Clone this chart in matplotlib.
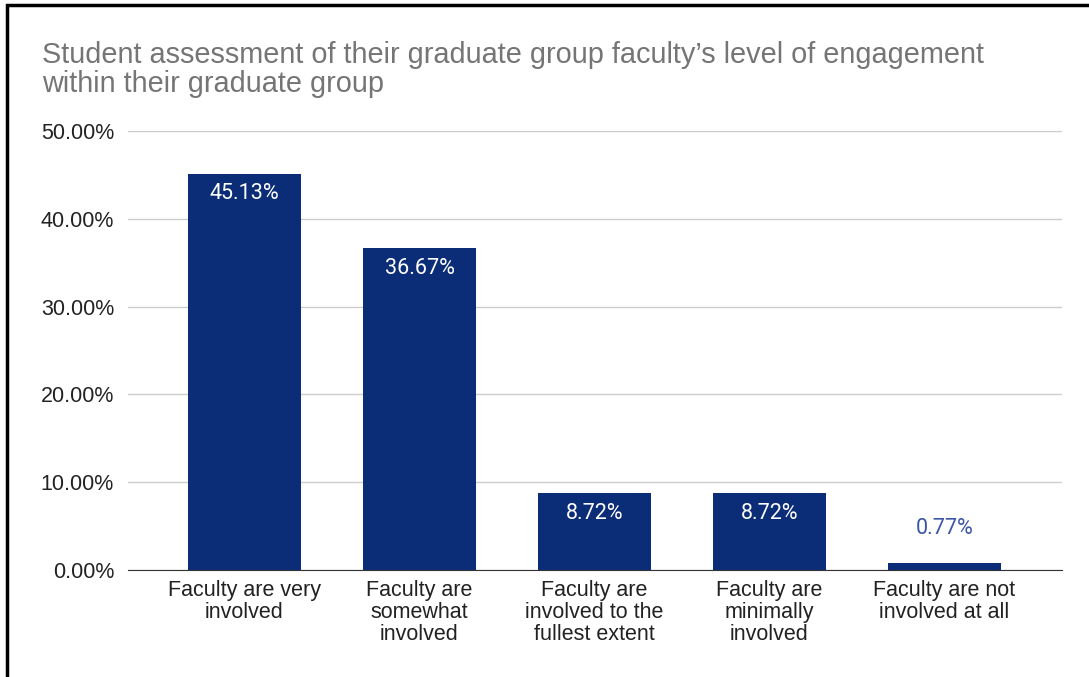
import matplotlib.pyplot as plt
from matplotlib.patches import Rectangle
from matplotlib.ticker import FuncFormatter

categories = ['Faculty are very\ninvolved',
              'Faculty are\nsomewhat\ninvolved',
              'Faculty are\ninvolved to the\nfullest extent',
              'Faculty are\nminimally\ninvolved',
              'Faculty are not\ninvolved at all']
shares = [45.13, 36.67, 8.72, 8.72, 0.77]
yticks = [0, 10, 20, 30, 40, 50]

bar_color = '#0b2d78'

fig = plt.figure(figsize=(10.89, 6.77), dpi=100)
ax = fig.add_axes([0.1175, 0.158, 0.8575, 0.6485])

x = list(range(len(shares)))
bars = ax.bar(x, shares, width=0.65, color=bar_color, zorder=3)

ax.set_xlim(-0.666, 4.671)
ax.set_ylim(0, 50)
ax.set_yticks(yticks)
ax.yaxis.set_major_formatter(FuncFormatter(lambda v, p: f'{v:.2f}%'))
ax.set_xticks(x)
ax.set_xticklabels(categories, family='Liberation Sans', fontsize=15.5,
                   color='#222222', linespacing=1.06)

ax.grid(axis='y', color='#cccccc', linewidth=1, zorder=0)
for s in ['top', 'right', 'left']:
    ax.spines[s].set_visible(False)
ax.spines['bottom'].set_color('#333333')
ax.spines['bottom'].set_zorder(4)
ax.tick_params(axis='both', length=0)
ax.tick_params(axis='y', pad=10)
ax.tick_params(axis='x', pad=7.5)
for lab in ax.get_yticklabels():
    lab.set_family('Liberation Sans')
    lab.set_fontsize(15.5)
    lab.set_color('#222222')

# value labels: inside tall bars, above the short one
for rect, v in zip(bars, shares):
    cx = rect.get_x() + rect.get_width() / 2
    if v > 5:
        ax.annotate(f'{v:.2f}%', (cx, v), xytext=(0, -14.5), textcoords='offset points',
                    ha='center', va='center', color='white', fontsize=15.5,
                    family='Roboto', zorder=5)
    else:
        ax.annotate(f'{v:.2f}%', (cx, v), xytext=(0, 25), textcoords='offset points',
                    ha='center', va='center', color='#3a56a4', fontsize=15.5,
                    family='Roboto', zorder=5)

fig.text(0.0385, 0.94, "Student assessment of their graduate group faculty\u2019s level of engagement\nwithin their graduate group",
         family='Liberation Sans', fontsize=20.8, color='#757575', va='top', ha='left',
         linespacing=1.05)

# outer frame on the left and top edges
fig.add_artist(Rectangle((0.006, -0.01), 1.1, 1.003, transform=fig.transFigure,
                         fill=False, edgecolor='black', linewidth=2.5))

fig.savefig('out.png', dpi=100)
